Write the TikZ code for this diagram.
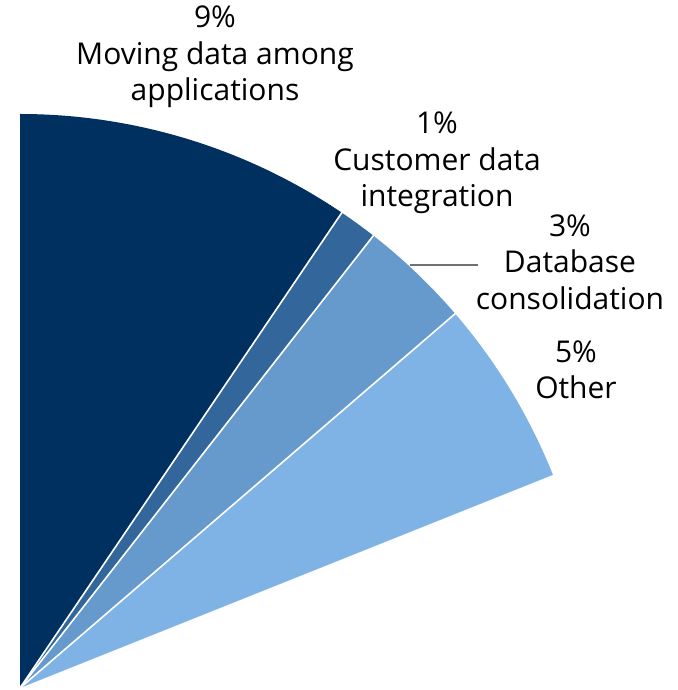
\documentclass[tikz,border=0pt]{standalone}
\usepackage{fontspec}
\setmainfont{Open Sans}
\definecolor{sliceA}{HTML}{003060}
\definecolor{sliceB}{HTML}{33679B}
\definecolor{sliceC}{HTML}{6699CC}
\definecolor{sliceD}{HTML}{7FB2E5}
\definecolor{leader}{HTML}{707070}
\tikzset{
  lbl/.style={align=center, font=\fontsize{30}{36.5}\selectfont, text=black, inner sep=0pt},
  sep/.style={draw=white, line width=1.6pt},
}
\begin{document}
\begin{tikzpicture}[x=1pt,y=1pt]
\useasboundingbox (0,0) rectangle (677,690);
\coordinate (O) at (20,2);
\def\R{574}
\fill[sliceA] (O) -- ++(90:\R) arc[start angle=90,end angle=55.9,radius=\R] -- cycle;
\fill[sliceB] (O) -- ++(55.9:\R) arc[start angle=55.9,end angle=52,radius=\R] -- cycle;
\fill[sliceC] (O) -- ++(52:\R) arc[start angle=52,end angle=40.7,radius=\R] -- cycle;
\fill[sliceD] (O) -- ++(40.7:\R) arc[start angle=40.7,end angle=21.8,radius=\R] -- cycle;
\draw[sep] (O) -- ++(55.9:\R+1);
\draw[sep] (O) -- ++(52:\R+1);
\draw[sep] (O) -- ++(40.7:\R+1);
\node[lbl] (tA) at (215,633) {9\%\\Moving data among\\applications};
\node[lbl] (tB) at (437,527) {1\%\\Customer data\\integration};
\node[lbl] (tC) at (570,428) {3\%\\Database\\consolidation};
\node[lbl] (tD) at (576,320) {5\%\\Other};
\coordinate (l1) at (410,425);
\coordinate (l2) at (478,425);
\draw[leader, line width=2pt] (l1) -- (l2);
\end{tikzpicture}
\end{document}
